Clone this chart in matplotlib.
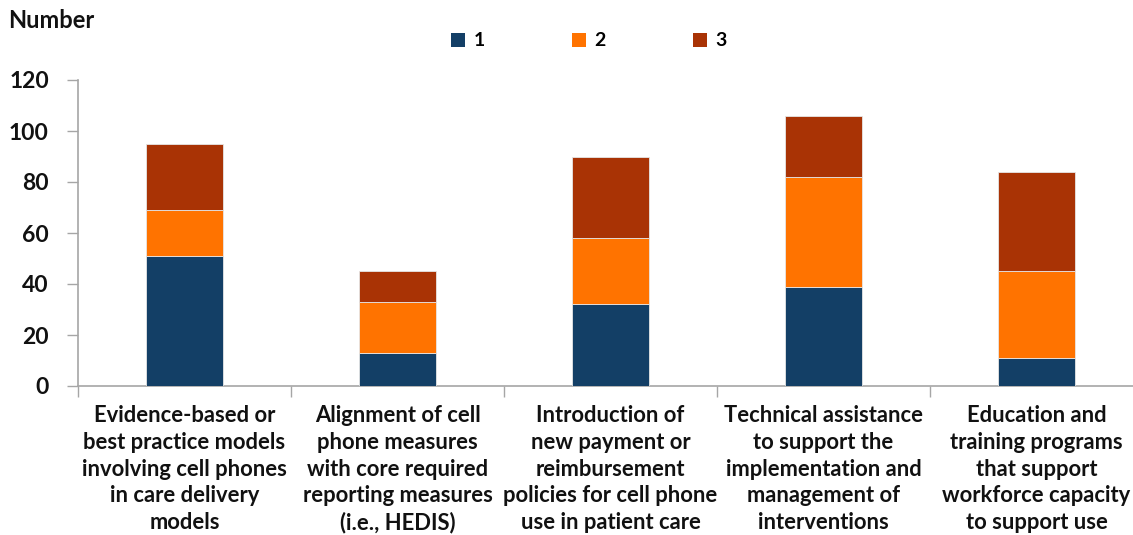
import matplotlib
matplotlib.use("Agg")
import matplotlib.pyplot as plt
from matplotlib.patches import Patch
import numpy as np

plt.rcParams['font.family'] = ['Lato', 'DejaVu Sans']
plt.rcParams['font.weight'] = 'bold'

categories = [
    "Evidence-based or\nbest practice models\ninvolving cell phones\nin care delivery\nmodels",
    "Alignment of cell\nphone measures\nwith core required\nreporting measures\n(i.e., HEDIS)",
    "Introduction of\nnew payment or\nreimbursement\npolicies for cell phone\nuse in patient care",
    "Technical assistance\nto support the\nimplementation and\nmanagement of\ninterventions",
    "Education and\ntraining programs\nthat support\nworkforce capacity\nto support use",
]
series_names = ["1", "2", "3"]
values_1 = [51, 13, 32, 39, 11]
values_2 = [18, 20, 26, 43, 34]
values_3 = [26, 12, 32, 24, 39]
colors = ["#133F66", "#FF7300", "#A93305"]
yticks = [0, 20, 40, 60, 80, 100, 120]

fig = plt.figure(figsize=(11.33, 5.35), dpi=100)
ax = fig.add_axes([78/1133, 1-386/535, (1143-78)/1133, (386-80)/535])

x = np.arange(len(categories))
bottom = np.zeros(len(categories))
for name, vals, c in zip(series_names, [values_1, values_2, values_3], colors):
    ax.bar(x, vals, width=0.36, bottom=bottom, color=c, edgecolor='#e6e6e6',
           linewidth=0.6, label=name, zorder=3)
    bottom += np.array(vals)

ax.set_xlim(-0.5, len(categories) - 0.5)
ax.set_ylim(0, 120)
ax.set_yticks(yticks)
ax.set_yticklabels([str(v) for v in yticks], fontsize=16.5, fontweight='bold', color='#111111')

ax.set_xticks(x)
ax.set_xticklabels(categories, fontsize=15.8, fontweight='bold', color='#111111',
                   linespacing=1.33)
ax.set_xticks(np.arange(-0.5, len(categories), 1.0), minor=True)
ax.tick_params(axis='x', which='major', length=0, pad=14)
ax.tick_params(axis='x', which='minor', length=8, width=1, color='#a6a6a6', direction='out')
ax.tick_params(axis='y', length=8, width=1, color='#a6a6a6', direction='out', pad=13)

for s in ['top', 'right']:
    ax.spines[s].set_visible(False)
for s in ['left', 'bottom']:
    ax.spines[s].set_color('#a6a6a6')
    ax.spines[s].set_linewidth(1.2)

fig.text(8/1133, 1-20/535, "Number", fontsize=17, fontweight='bold',
         color='#111111', ha='left', va='center')

handles = [Patch(facecolor=c, edgecolor='none') for c in colors]
fig.legend(handles, series_names, loc='center', bbox_to_anchor=(589/1133, 1-41/535),
           ncol=3, frameon=False, handlelength=0.7, handleheight=0.7,
           handletextpad=0.45, columnspacing=4.5,
           prop={'family': ['Lato', 'DejaVu Sans'], 'weight': 'bold', 'size': 14})

fig.savefig("out.png", dpi=100, facecolor='white')
